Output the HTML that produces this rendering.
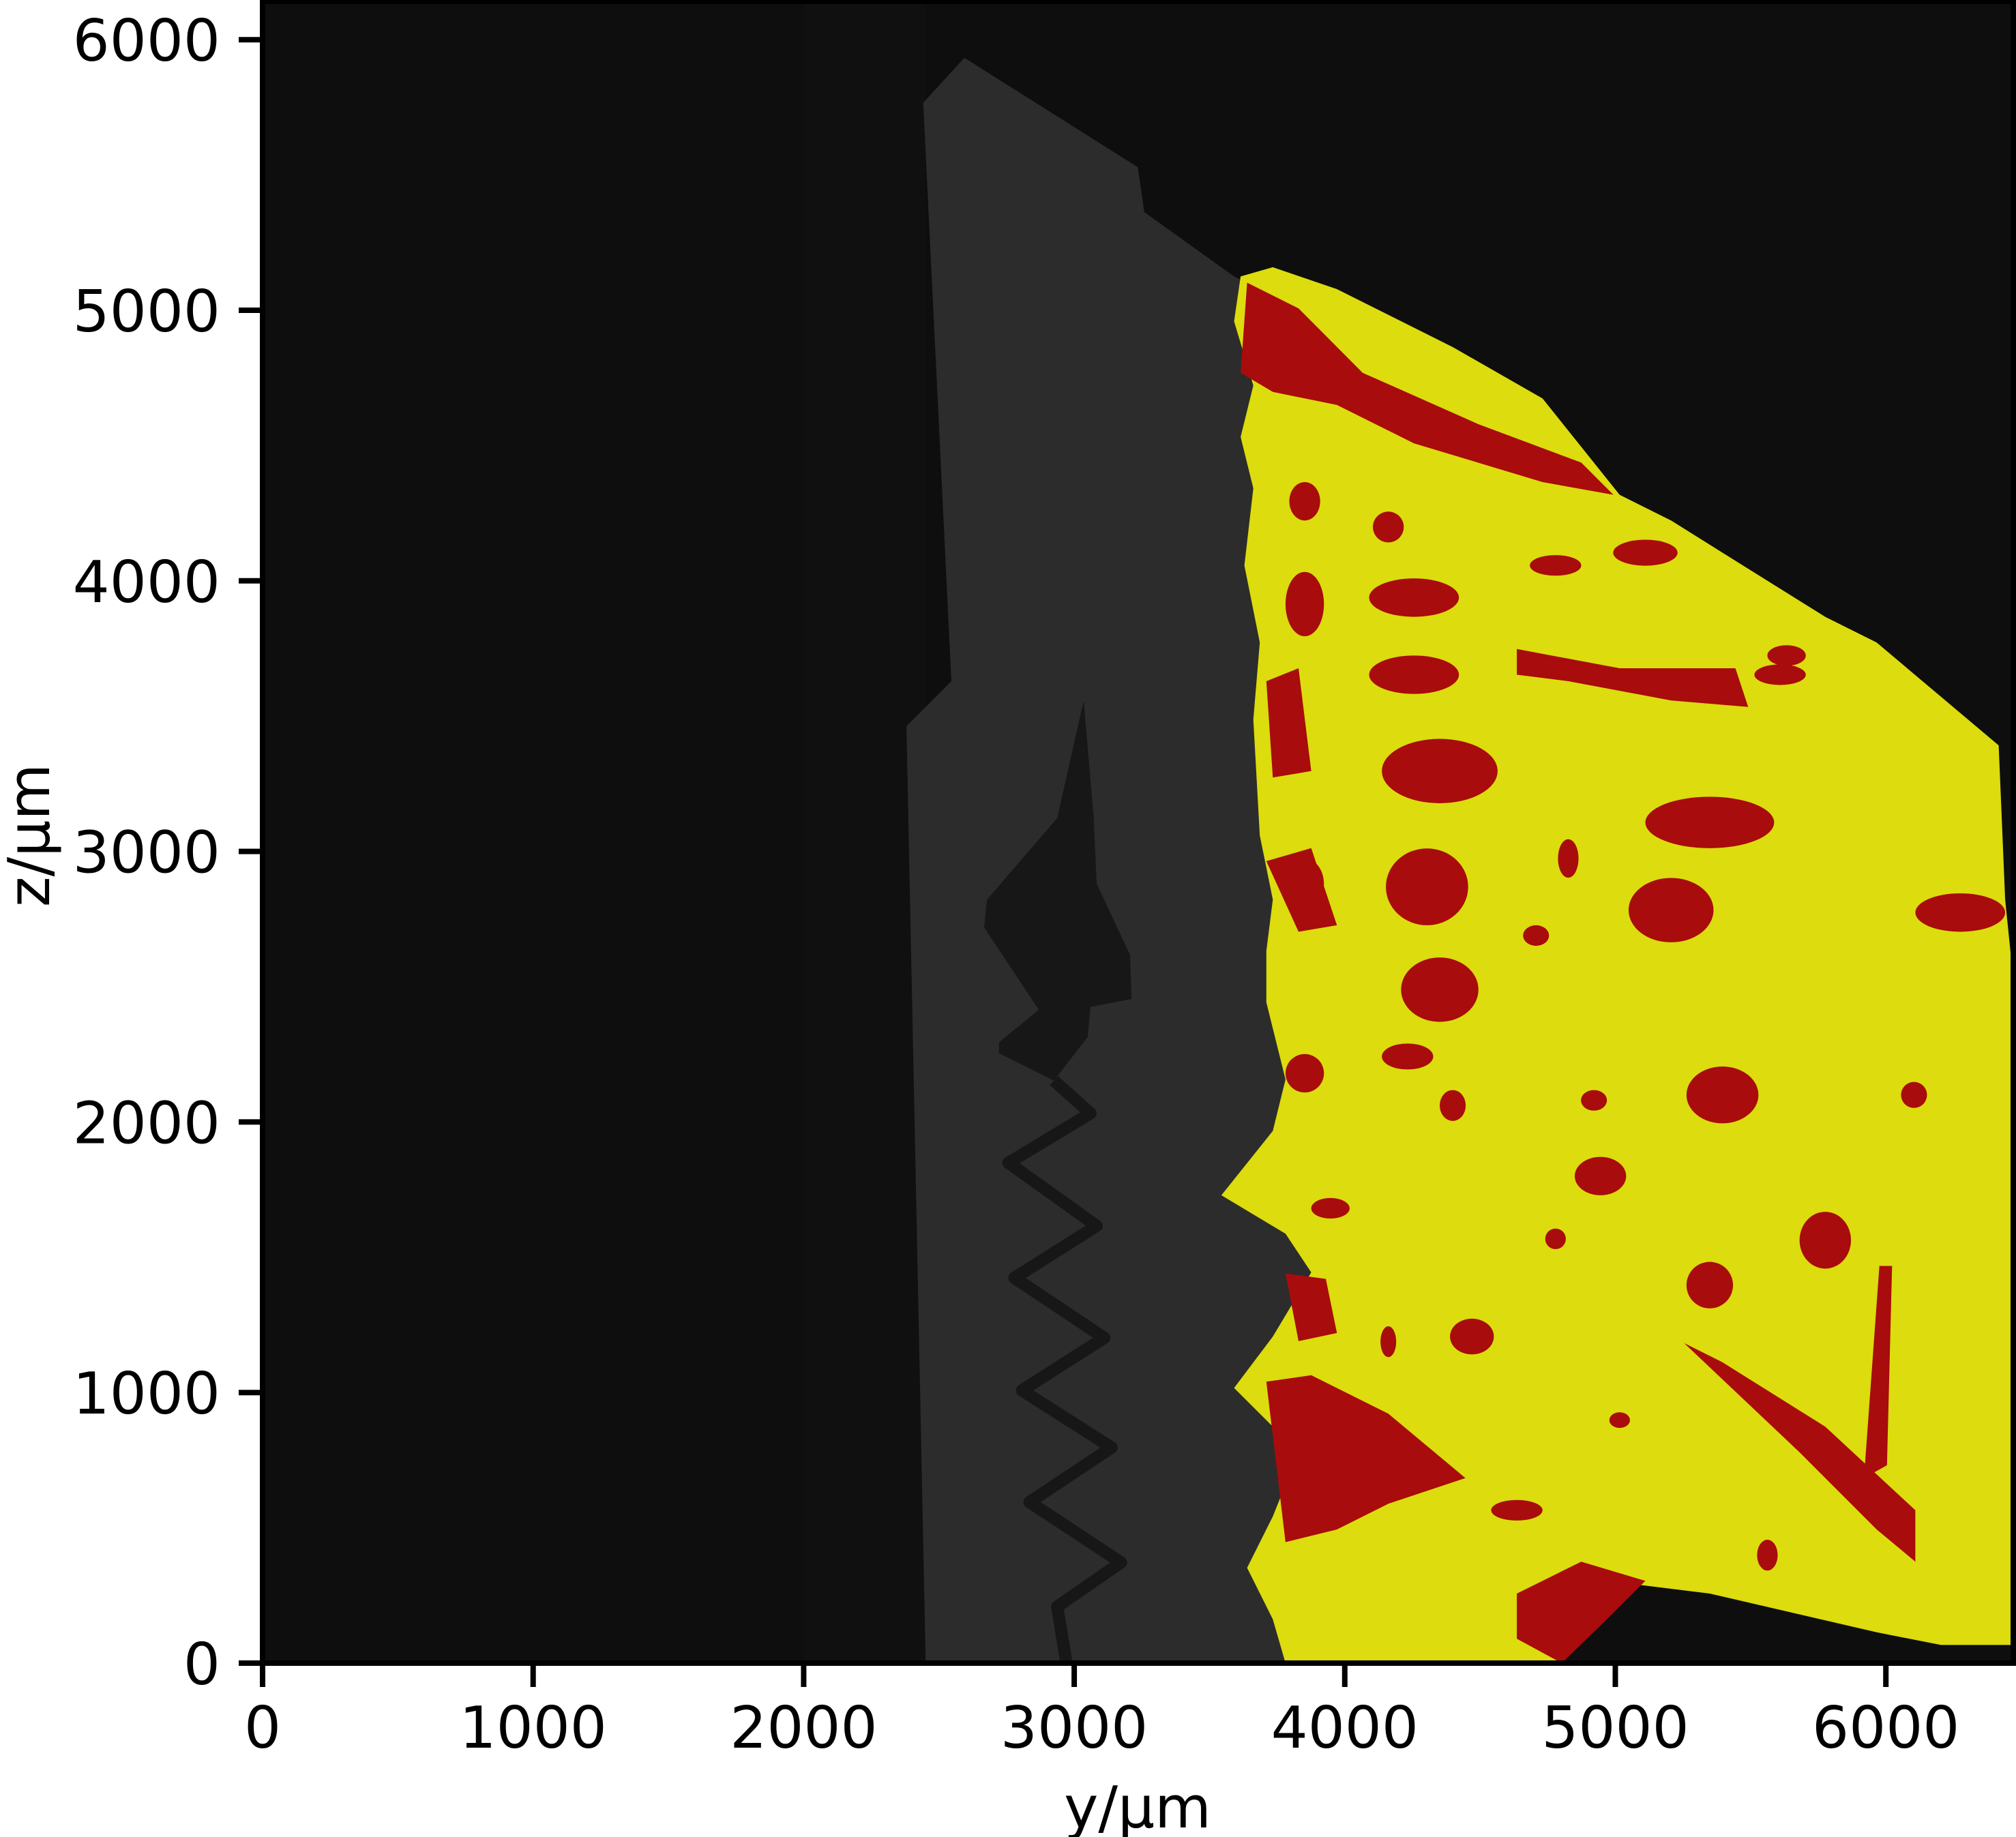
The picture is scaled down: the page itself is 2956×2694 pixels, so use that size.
<!DOCTYPE html>
<html><head><meta charset="utf-8"><style>
html,body{margin:0;padding:0;background:#fff;}
svg{display:block;font-family:"DejaVu Sans","Liberation Sans",sans-serif;}
</style></head><body>
<svg id="chart" width="2956" height="2694" viewBox="0 0 2956 2694" xmlns="http://www.w3.org/2000/svg">
<defs><clipPath id="ac"><rect x="385" y="2" width="2567" height="2437"/></clipPath></defs>
<g id="img" clip-path="url(#ac)"></g>
<g id="axes"></g>
</svg>
<script>
const xTicks=[0,1000,2000,3000,4000,5000,6000];
const yTicks=[0,1000,2000,3000,4000,5000,6000];
const implant=[[2442,5767],[2594,5933],[3235,5529],[3259,5363],[3591,5125],[3640,5100],[3800,4500],[4000,4000],[4000,0],[2451,0],[2380,3463],[2546,3629]];
const threadBulge=[[2937,3123],[3035,3558],[3072,3123],[3083,2881],[3206,2618],[3212,2455],[3060,2425],[3050,2314],[2925,2153],[2722,2254],[2722,2294],[2869,2415],[2667,2719],[2677,2821]];
const threadLine=[[2925,2153],[3060,2032],[2757,1849],[3083,1616],[2779,1424],[3111,1202],[2807,1008],[3138,797],[2835,595],[3173,372],[2937,209],[2970,8]];
const bone=[[3615,5125],[3734,5159],[3971,5078],[4399,4864],[4731,4674],[5016,4318],[5206,4223],[5396,4104],[5776,3867],[5966,3772],[6417,3392],[6441,2822],[6470,2537],[6470,67],[6204,67],[5966,114],[5349,257],[4969,304],[4802,0],[3781,0],[3734,162],[3639,352],[3734,542],[3829,779],[3591,1017],[3734,1207],[3876,1444],[3781,1587],[3544,1729],[3734,1967],[3781,2157],[3710,2442],[3710,2632],[3734,2822],[3686,3059],[3662,3487],[3686,3772],[3629,4057],[3662,4342],[3615,4532],[3662,4722],[3591,4959]];
const redPolys=[
[[3639,5102],[3829,5007],[4066,4769],[4494,4579],[4874,4437],[4993,4318],[4731,4365],[4256,4508],[3971,4650],[3734,4698],[3615,4769]],
[[3710,1040],[3876,1064],[4161,922],[4446,684],[4161,589],[3971,494],[3781,447]],
[[4636,257],[4874,375],[5111,304],[4969,162],[4802,0],[4636,90]],
[[5254,1183],[5396,1112],[5776,874],[6109,565],[6109,375],[5966,494],[5681,779]],
[[5976,1468],[6023,1468],[6004,731],[5919,684]],
[[4636,3748],[5016,3677],[5444,3677],[5491,3534],[5206,3558],[4826,3629],[4636,3653]],
[[3781,1440],[3930,1420],[3971,1220],[3829,1190]],
[[3710,2964],[3876,3012],[3971,2727],[3829,2703]],
[[3710,3629],[3829,3677],[3876,3297],[3734,3273]]
];
const redEllipses=[[4304,2869,152,142],[5206,2783,157,119],[4351,3297,214,119],[5349,3107,238,95],[4256,3938,166,71],[4256,3653,166,71],[4351,2489,143,119],[5396,2100,133,105],[5776,1563,95,105],[5349,1397,86,86],[4945,1800,95,71],[4470,1207,81,66],[4232,2242,95,48],[3852,2879,71,95],[3852,2180,71,71],[3852,4294,57,71],[3852,3914,71,119],[4161,4199,57,57],[6275,2774,166,71],[4826,2974,38,71],[4707,2689,48,38],[4921,2080,48,38],[4399,2061,48,57],[3947,1681,71,38],[4161,1188,29,57],[6104,2100,48,48],[4779,1568,38,38],[5633,3724,71,38],[5111,4104,119,48],[5609,3653,95,38],[4779,4057,95,38],[5562,399,38,57],[5016,898,38,29],[4636,565,95,38],[4019,684,71,38]];
const ns="http://www.w3.org/2000/svg";
const X=u=>385+u*0.3967, Y=v=>2439-v*0.3968;
const img=document.getElementById('img'), axes=document.getElementById('axes');
function mk(tag,attrs,parent){const e=document.createElementNS(ns,tag);for(const k in attrs)e.setAttribute(k,attrs[k]);parent.appendChild(e);return e;}
const pts=a=>a.map(p=>X(p[0]).toFixed(1)+','+Y(p[1]).toFixed(1)).join(' ');
let e=mk('rect',{x:385,y:2,width:2567,height:2437,fill:'#0e0e0e'},img);


e=mk('rect',{x:X(2000),y:2,width:X(2450)-X(2000),height:2437,fill:'#101010'},img);


e=mk('polygon',{points:pts(implant),fill:'#2c2c2c'},img);


e=mk('polygon',{points:pts(threadBulge),fill:'#171717'},img);


e=mk('polyline',{points:pts(threadLine),fill:'none',stroke:'#171717','stroke-width':18,'stroke-linejoin':'round'},img);


e=mk('polygon',{points:pts(bone),fill:'#dcdc0e'},img);


redPolys.forEach(p=>{const r=mk('polygon',{points:pts(p),fill:'#a80c0c'},img);

});
redEllipses.forEach(p=>{const r=mk('ellipse',{cx:X(p[0]),cy:Y(p[1]),rx:p[2]*0.3967,ry:p[3]*0.3968,fill:'#a80c0c'},img);

});
e=mk('rect',{x:385,y:2,width:2567,height:2437,fill:'none',stroke:'#000','stroke-width':8},axes);


xTicks.forEach(t=>{const x=X(t);
const l=mk('line',{x1:x,x2:x,y1:2439,y2:2474,stroke:'#000','stroke-width':8},axes);


const tx=mk('text',{x:x,y:2563,'font-size':85,'text-anchor':'middle',fill:'#000'},axes);tx.textContent=t;

});
yTicks.forEach(t=>{const y=Y(t);
const l=mk('line',{x1:350,x2:385,y1:y,y2:y,stroke:'#000','stroke-width':8},axes);


const tx=mk('text',{x:323,y:y+31,'font-size':85,'text-anchor':'end',fill:'#000'},axes);tx.textContent=t;

});
e=mk('text',{x:1668,y:2680,'font-size':85,'text-anchor':'middle',fill:'#000'},axes);e.textContent='y/µm';


e=mk('text',{x:72,y:1225,'font-size':85,'text-anchor':'middle',fill:'#000',transform:'rotate(-90 72 1225)'},axes);e.textContent='z/µm';


</script>
</body></html>
